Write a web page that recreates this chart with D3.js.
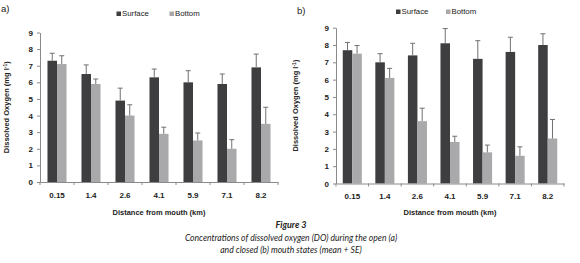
<!DOCTYPE html>
<html><head><meta charset="utf-8">
<script src="https://cdn.jsdelivr.net/npm/d3@7"></script>
<style>
body{margin:0;background:#fff;}
svg{display:block;}
</style></head>
<body>
<svg id="c" width="580" height="263"></svg>
<script>
const categories = ["0.15","1.4","2.6","4.1","5.9","7.1","8.2"];
const seriesNames = ["Surface","Bottom"];
const yTicks = [0,1,2,3,4,5,6,7,8,9];
// Panel a) open mouth
const openSurface = [7.3, 6.5, 4.9, 6.3, 6.0, 5.9, 6.9];
const openSurfaceSE = [0.45, 0.55, 0.75, 0.5, 0.7, 0.6, 0.8];
const openBottom = [7.1, 5.9, 4.0, 2.9, 2.5, 2.0, 3.5];
const openBottomSE = [0.5, 0.3, 0.65, 0.4, 0.45, 0.55, 1.0];
// Panel b) closed mouth
const closedSurface = [7.7, 7.0, 7.4, 8.1, 7.2, 7.6, 8.0];
const closedSurfaceSE = [0.45, 0.5, 0.7, 0.85, 1.05, 0.85, 0.65];
const closedBottom = [7.5, 6.1, 3.6, 2.4, 1.8, 1.6, 2.6];
const closedBottomSE = [0.47, 0.55, 0.75, 0.33, 0.42, 0.52, 1.1];

const colors = ["#3e3e41","#a9a9ac"];
const svg = d3.select("#c");

function panel(opt){
  const g = svg.append("g");
  const x0 = d3.scaleBand().domain(categories).range([opt.x0, opt.x1])
    .paddingInner(opt.pad).paddingOuter(opt.pad/2);
  const x1 = d3.scaleBand().domain(seriesNames).range([0, x0.bandwidth()]);
  const y = d3.scaleLinear().domain([0,9]).range([opt.yb, opt.yt]);

  const data = categories.map((c,i)=>({c, vals:[
    {s:"Surface", v:opt.s[i], e:opt.se[i]},
    {s:"Bottom", v:opt.b[i], e:opt.be[i]}]}));

  const grp = g.selectAll("g.cat").data(data).join("g")
    .attr("transform", d=>`translate(${x0(d.c)},0)`);
  grp.selectAll("rect").data(d=>d.vals).join("rect")
    .attr("x", d=>x1(d.s)).attr("width", x1.bandwidth())
    .attr("y", d=>y(d.v)).attr("height", d=>y(0)-y(d.v))
    .attr("fill", (d,i)=>colors[i]);
  grp.selectAll("line.err").data(d=>d.vals).join("line").attr("class","err")
    .attr("x1", d=>x1(d.s)+x1.bandwidth()/2).attr("x2", d=>x1(d.s)+x1.bandwidth()/2)
    .attr("y1", d=>y(d.v)).attr("y2", d=>y(d.v+d.e))
    .attr("stroke","#707070").attr("stroke-width",1);
  grp.selectAll("line.cap").data(d=>d.vals).join("line").attr("class","cap")
    .attr("x1", d=>x1(d.s)+x1.bandwidth()/2-2.5).attr("x2", d=>x1(d.s)+x1.bandwidth()/2+2.5)
    .attr("y1", d=>y(d.v+d.e)).attr("y2", d=>y(d.v+d.e))
    .attr("stroke","#707070").attr("stroke-width",1);

  const ya = g.append("g").attr("transform",`translate(${opt.x0},0)`)
    .call(d3.axisLeft(y).tickValues(yTicks).tickSize(3).tickSizeOuter(0).tickPadding(4));
  ya.select(".domain").attr("stroke","#8a8a8a");
  ya.selectAll(".tick line").attr("stroke","#8a8a8a");
  ya.selectAll("text").attr("font-family","Liberation Sans, Arial, sans-serif")
    .attr("font-size",8).attr("font-weight","bold").attr("fill","#222");

  const xa = g.append("g").attr("transform",`translate(0,${opt.yb})`)
    .call(d3.axisBottom(x0).tickSize(0).tickPadding(10));
  xa.select(".domain").attr("stroke","#8a8a8a");
  xa.selectAll("text").attr("font-family","Liberation Sans, Arial, sans-serif")
    .attr("font-size",8).attr("font-weight","bold").attr("fill","#222");
  const step = x0.step();
  g.selectAll("line.bt").data(d3.range(categories.length+1)).join("line")
    .attr("x1", i=>opt.x0+i*step).attr("x2", i=>opt.x0+i*step)
    .attr("y1", opt.yb).attr("y2", opt.yb+3).attr("stroke","#8a8a8a");

  const yt = g.append("text").attr("transform",`translate(${opt.ytx},${(opt.yt+opt.yb)/2}) rotate(-90)`)
    .attr("text-anchor","middle").attr("font-family","Liberation Sans, Arial, sans-serif")
    .attr("font-size",7.5).attr("font-weight","bold").attr("fill","#222");
  yt.append("tspan").text("Dissolved Oxygen (mg l");
  yt.append("tspan").attr("dy",-2.5).attr("font-size",5).text("-1");
  yt.append("tspan").attr("dy",2.5).text(")");
  g.append("text").attr("x",(opt.x0+opt.x1)/2).attr("y",215)
    .attr("text-anchor","middle").attr("font-family","Liberation Sans, Arial, sans-serif")
    .attr("font-size",7.5).attr("font-weight","bold").attr("fill","#222")
    .text("Distance from mouth (km)");
  g.append("text").attr("x",opt.lx).attr("y",opt.ly)
    .attr("font-family","Liberation Sans, Arial, sans-serif").attr("font-size",9.5).attr("fill","#222")
    .text(opt.label);
  const lg = g.selectAll("g.leg").data(seriesNames).join("g")
    .attr("transform",(d,i)=>`translate(${opt.legX[i]},${opt.legY})`);
  lg.append("rect").attr("x",0).attr("y",-4.5).attr("width",4.5).attr("height",4.5).attr("fill",(d,i)=>colors[i]);
  lg.append("text").attr("x",5.5).attr("y",0).attr("font-family","Liberation Sans, Arial, sans-serif")
    .attr("font-size",7.8).attr("fill","#222").text(d=>d);
}

panel({x0:40, x1:278, pad:0.44, yb:182, yt:32.5, s:openSurface, se:openSurfaceSE, b:openBottom, be:openBottomSE,
  ytx:9, label:"a)", lx:1, ly:12, legX:[116.5,169.5], legY:16});
panel({x0:336, x1:564, pad:0.415, yb:183.5, yt:27.7, s:closedSurface, se:closedSurfaceSE, b:closedBottom, be:closedBottomSE,
  ytx:298, label:"b)", lx:297, ly:14, legX:[396,446], legY:14});

const cap = svg.append("g").attr("font-family","Lato, 'Open Sans', sans-serif").attr("font-style","italic")
  .attr("text-anchor","middle").attr("fill","#222");
cap.append("text").attr("x",291).attr("y",228).attr("font-size",9).attr("font-weight","bold").text("Figure 3");
cap.append("text").attr("x",291).attr("y",241).attr("font-size",8.6)
  .text("Concentrations of dissolved oxygen (DO) during the open (a)");
cap.append("text").attr("x",291).attr("y",253).attr("font-size",8.6)
  .text("and closed (b) mouth states (mean + SE)");
</script>
</body></html>
